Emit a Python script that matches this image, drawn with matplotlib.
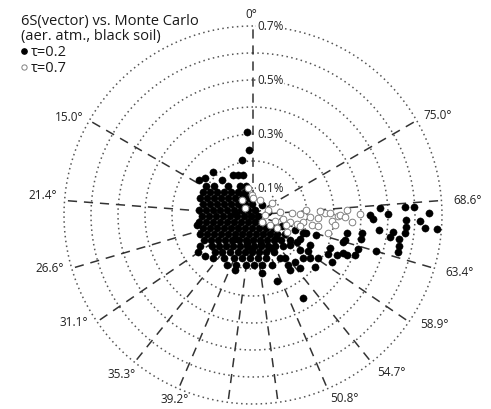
import numpy as np
import matplotlib
matplotlib.use('Agg')
import matplotlib.pyplot as plt
from matplotlib.lines import Line2D

plt.rcParams['font.family'] = ['Open Sans', 'DejaVu Sans']

# Spokes: view zenith angle labels (plotted azimuth = 4 x angle, counter-clockwise from top)
spoke_vza = [0.0, 75.0, 68.6, 63.4, 58.9, 54.7, 50.8, 46.9, 43.1, 39.2, 35.3, 31.1, 26.6, 21.4, 15.0]
spoke_labels = ['0°', '75.0°', '68.6°', '63.4°', '58.9°', '54.7°', '50.8°', '', '',
                '39.2°', '35.3°', '31.1°', '26.6°', '21.4°', '15.0°']
ring_values = [0.1, 0.2, 0.3, 0.4, 0.5, 0.6, 0.7]
ring_labels = ['0.1%', '', '0.3%', '', '0.5%', '', '0.7%']

# tau = 0.2 : azimuth position (deg) and relative difference (%)
tau02_theta = [
    58.3, 53.4, 40.8, 24.1, 13.6,
    65.3, 61.9, 57.4, 51.6, 43.7, 33.1, 19.2,
    72.2, 69.7, 66.4, 62.0, 55.8, 46.6, 32.9, 13.2,
    77.6, 75.7, 73.0, 69.2, 63.4, 53.7, 36.0, 5.2,
    84.7, 83.9, 82.9, 81.4, 79.1, 75.3, 67.4, 45.0, 338.2,
    91.1, 91.3, 91.5, 91.9, 92.5, 93.6, 96.3, 116.6, 258.7,
    97.4, 98.5, 99.9, 102.0, 105.1, 110.2, 120.3, 144.5, 195.9, 232.1,
    104.6, 106.8, 109.9, 114.1, 120.6, 130.9, 148.4, 175.6, 204.8, 225.0, 237.0,
    109.7, 112.4, 116.0, 120.7, 127.2, 136.5, 149.9, 168.1, 189.0, 207.8, 221.8, 231.6, 239.3,
    117.0, 120.8, 125.5, 131.8, 140.0, 150.8, 164.4, 180.0, 195.6, 209.2, 220.0, 228.2, 236.0,
    120.3, 127.1, 132.4, 139.0, 147.2, 157.2, 169.0, 181.8, 194.5, 205.8, 215.4, 224.0,
    134.2, 140.0, 148.1, 157.9, 167.8, 178.5, 189.2, 199.4, 209.6,
    146.0, 156.2, 165.7, 176.0, 186.6, 196.8, 212.1,
    152.5, 161.2, 172.0, 181.1, 190.2, 200.8, 215.0,
    4.1, 3.5, 11.3, 26.6, 20.6, 14.0, 42.9, 57.0, 41.5, 52.4,
    100.1, 124.0, 130.5, 137.1, 161.9,
    188.8, 200.0, 214.0, 221.6, 211.1,
    318.0, 281.3, 249.2, 250.3, 231.0, 233.3, 233.0, 216.7, 221.8, 251.2,
    273.2, 270.4, 273.0, 272.8, 270.7, 268.1, 265.5, 263.2, 267.9, 263.2,
    265.7, 265.6, 263.1, 260.9, 260.7, 258.0, 255.7, 253.7, 270.0, 268.1,
    260.6, 257.5, 252.1, 248.6, 259.2, 254.8, 247.1, 246.8, 242.5, 239.2,
    236.5, 230.0, 242.2, 236.8, 250.2, 243.0, 252.4, 247.0, 244.5, 253.3, 229.3,
    86.0, 60.0, 28.0, 143.0, 168.0, 179.0, 196.0, 209.0, 226.0, 238.5,
]
tau02_err = [
    0.204, 0.180, 0.142, 0.118, 0.110,
    0.204, 0.181, 0.158, 0.137, 0.118, 0.102, 0.090,
    0.206, 0.182, 0.158, 0.134, 0.112, 0.092, 0.075, 0.065,
    0.190, 0.164, 0.139, 0.115, 0.091, 0.069, 0.050, 0.041,
    0.201, 0.175, 0.149, 0.124, 0.098, 0.073, 0.048, 0.026, 0.020,
    0.189, 0.163, 0.137, 0.111, 0.085, 0.059, 0.034, 0.008, 0.019,
    0.202, 0.176, 0.150, 0.125, 0.100, 0.075, 0.051, 0.032, 0.027, 0.042,
    0.191, 0.166, 0.142, 0.118, 0.095, 0.073, 0.057, 0.048, 0.053, 0.068, 0.088,
    0.209, 0.184, 0.161, 0.138, 0.116, 0.097, 0.081, 0.072, 0.071, 0.080, 0.094, 0.113, 0.138,
    0.204, 0.181, 0.159, 0.139, 0.121, 0.106, 0.096, 0.093, 0.096, 0.106, 0.121, 0.139, 0.165,
    0.227, 0.190, 0.170, 0.152, 0.137, 0.124, 0.117, 0.115, 0.119, 0.128, 0.141, 0.160,
    0.196, 0.179, 0.161, 0.148, 0.140, 0.137, 0.139, 0.145, 0.157,
    0.192, 0.174, 0.164, 0.160, 0.160, 0.166, 0.188,
    0.209, 0.196, 0.187, 0.185, 0.188, 0.198, 0.226,
    0.308, 0.241, 0.208, 0.166, 0.158, 0.153, 0.217, 0.238, 0.173, 0.224,
    0.211, 0.245, 0.234, 0.217, 0.214,
    0.217, 0.260, 0.245, 0.262, 0.359,
    0.050, 0.057, 0.115, 0.165, 0.176, 0.217, 0.264, 0.199, 0.233, 0.207,
    0.471, 0.500, 0.564, 0.597, 0.652, 0.567, 0.568, 0.567, 0.619, 0.470,
    0.639, 0.683, 0.522, 0.514, 0.548, 0.553, 0.554, 0.475, 0.433, 0.445,
    0.409, 0.410, 0.409, 0.406, 0.354, 0.353, 0.362, 0.310, 0.313, 0.340,
    0.289, 0.300, 0.239, 0.243, 0.197, 0.195, 0.245, 0.378, 0.345, 0.348, 0.244,
    0.062, 0.045, 0.082, 0.110, 0.105, 0.125, 0.110, 0.140, 0.120, 0.190,
]

# tau = 0.7
tau07_theta = [
    273.0, 270.5, 266.0, 269.3, 265.7, 271.6, 267.0, 268.0, 262.5, 260.4,
    256.5, 270.0, 259.0, 258.5, 262.0, 254.0, 241.6, 243.4, 288.4, 302.3,
    10.5, 2.9, 0.0, 335.0, 271.5, 275.0, 273.0, 273.5, 276.5, 252.7,
    256.8, 260.4, 270.0, 239.5, 232.0, 36.3, 48.8, 263.0, 268.8, 271.5,
]
tau07_err = [
    0.349, 0.396, 0.368, 0.315, 0.293, 0.267, 0.241, 0.211, 0.186, 0.222,
    0.286, 0.322, 0.165, 0.138, 0.111, 0.084, 0.101, 0.141, 0.059, 0.083,
    0.102, 0.074, 0.063, 0.061, 0.174, 0.198, 0.249, 0.146, 0.102, 0.127,
    0.179, 0.244, 0.044, 0.073, 0.042, 0.069, 0.039, 0.306, 0.341, 0.285,
]

W, H = 491, 409
fig = plt.figure(figsize=(W / 100, H / 100), dpi=100)
cx, cy, R = 253, 409 - 215, 189
ax = fig.add_axes([(cx - R) / W, (cy - R) / H, 2 * R / W, 2 * R / H], projection='polar')
ax.set_theta_zero_location('N')
ax.set_theta_direction(1)
ax.set_ylim(0, 0.7)
ax.grid(False)
ax.set_xticks([])
ax.set_yticks([])
ax.spines['polar'].set_visible(False)
ax.patch.set_visible(False)

# rings
tt = np.linspace(0, 2 * np.pi, 721)
for rv in ring_values:
    ax.plot(tt, np.full_like(tt, rv), color='#555555', lw=1.1,
            linestyle=(0, (1, 2.2)), clip_on=False, zorder=1)

# spokes
spoke_theta = [np.deg2rad(4 * v) for v in spoke_vza]
for th in spoke_theta:
    ax.plot([th, th], [0, 0.7], color='#333333', lw=1.1,
            linestyle=(0, (6, 4.5)), clip_on=False, zorder=1)

# data
ax.plot(np.deg2rad(tau02_theta), tau02_err, linestyle='none', marker='o',
        markersize=5.2, markerfacecolor='black', markeredgecolor='black',
        markeredgewidth=0.3, zorder=3, clip_on=False, label='τ=0.2')
ax.plot(np.deg2rad(tau07_theta), tau07_err, linestyle='none', marker='o',
        markersize=4.8, markerfacecolor='white', markeredgecolor='#808080',
        markeredgewidth=0.7, zorder=4, clip_on=False, label='τ=0.7')

# spoke labels
label_fmt = {
    '0°': ('center', (-2, 11)),
    '75.0°': ('left', (7, 5)),
    '68.6°': ('left', (12, 0)),
    '63.4°': ('left', (11, -4)),
    '58.9°': ('left', (11, -3)),
    '54.7°': ('left', (6, -10)),
    '50.8°': ('left', (3, -10)),
    '39.2°': ('right', (10, -11)),
    '35.3°': ('right', (1, -12)),
    '31.1°': ('right', (-9, -1)),
    '26.6°': ('right', (-8, 0)),
    '21.4°': ('right', (-8, 5)),
    '15.0°': ('right', (-6, 3)),
}
for th, lab in zip(spoke_theta, spoke_labels):
    if not lab:
        continue
    ha, off = label_fmt[lab]
    ax.annotate(lab, xy=(th, 0.7), xytext=off, textcoords='offset pixels',
                ha=ha, va='center', fontsize=8.5, color='#222222',
                annotation_clip=False, zorder=5)

# ring labels
for rv, lab in zip(ring_values, ring_labels):
    if not lab:
        continue
    ax.annotate(lab, xy=(0, rv), xytext=(4, 0), textcoords='offset pixels',
                ha='left', va='center', fontsize=8.5, color='#222222',
                bbox=dict(boxstyle='square,pad=0.05', fc='white', ec='none'),
                annotation_clip=False, zorder=5)

# legend / title
handles = [
    Line2D([], [], linestyle='none', marker='o', markersize=3.8,
           markerfacecolor='black', markeredgecolor='black'),
    Line2D([], [], linestyle='none', marker='o', markersize=3.8,
           markerfacecolor='white', markeredgecolor='#808080', markeredgewidth=0.7),
]
leg = fig.legend(handles, ['τ=0.2', 'τ=0.7'],
                 title='6S(vector) vs. Monte Carlo\n(aer. atm., black soil)',
                 loc='upper left', bbox_to_anchor=(21 / W, 1 - 14 / H),
                 frameon=False, fontsize=10.5, title_fontsize=10.5,
                 handlelength=0.45, handletextpad=0.2, labelspacing=0.06,
                 borderpad=0, borderaxespad=0, alignment='left')
leg.get_title().set_linespacing(1.0)
leg._legend_handle_box.sep = 5
for t in leg.get_texts():
    t.set_color('#1a1a1a')
leg.get_title().set_color('#1a1a1a')

fig.savefig('out.png', dpi=100)
